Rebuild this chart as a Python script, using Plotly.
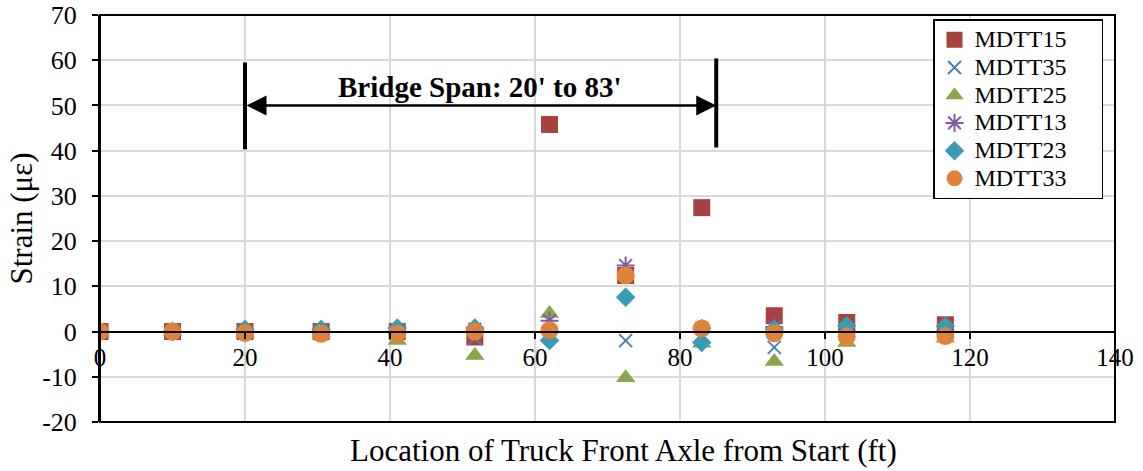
import plotly.graph_objects as go

# Truck front-axle positions (ft) at which strains were recorded
location_ft = [0, 10, 20, 30.5, 41, 51.7, 62, 72.5, 83, 93, 103, 116.6]

# Strain readings (microstrain) per gauge
mdtt15 = [0, 0, 0, 0, 0, -1.2, 45.8, 12.4, 27.4, 3.5, 2.0, 1.5]
mdtt35 = [0, 0, 0, 0, 0, -1.5, -1.0, -2.0, -1.0, -3.5, -1.5, -0.5]
mdtt25 = [0, 0, -0.3, -0.5, -2.0, -5.3, 4.0, -10.2, -2.6, -6.6, -2.4, -1.5]
mdtt13 = [0, 0, 0, 0, 0, 0.5, 2.4, 14.6, 0.7, 1.0, 0, 0]
mdtt23 = [0, 0, 0.5, 0.5, 0.8, 0.8, -2.0, 7.6, -2.4, 0.5, 1.3, 1.2]
mdtt33 = [0, 0, -0.3, -0.5, -0.5, 0, 0.3, 12.4, 0.7, -0.4, -1.1, -1.0]

# Axis ticks
x_tick_vals = [0, 20, 40, 60, 80, 100, 120, 140]
x_tick_text = ["0", "20", "40", "60", "80", "100", "120", "140"]
y_tick_vals = [-20, -10, 0, 10, 20, 30, 40, 50, 60, 70]
y_tick_text = ["-20", "-10", "0", "10", "20", "30", "40", "50", "60", "70"]

# Bridge span annotation extents
span_ends = [20, 85]
span_label = "Bridge Span: 20' to 83'"

x_range = [0, 140]
y_range = [-20, 70]

FONT = "Liberation Serif, Times New Roman, serif"

series = [
    ("MDTT15", mdtt15, dict(symbol="square", size=17, color="#A7423E")),
    ("MDTT35", mdtt35, dict(symbol="x-thin", size=13, color="#4A7EBB",
                            line=dict(color="#4A7EBB", width=2))),
    ("MDTT25", mdtt25, dict(symbol="triangle-up", size=17, color="#8BA64A")),
    ("MDTT13", mdtt13, dict(symbol="asterisk-open", size=15, color="#7D60A0",
                            line=dict(color="#7D60A0", width=2))),
    ("MDTT23", mdtt23, dict(symbol="diamond", size=15, color="#3C9BB4")),
    ("MDTT33", mdtt33, dict(symbol="circle", size=18, color="#E0833A")),
]

fig = go.Figure()
for name, vals, marker in series:
    # larger legend label text (with right padding) on compact row spacing
    fig.add_trace(go.Scatter(
        x=location_ft, y=vals, mode="markers", marker=marker,
        name='<span style="font-size:24px">' + name
             + "&nbsp;&nbsp;&nbsp;&nbsp;&nbsp;</span>",
    ))

# x axis sits on the zero strain line
zero_pos = (0 - y_range[0]) / (y_range[1] - y_range[0])

fig.update_layout(
    width=1143, height=471,
    margin=dict(l=100, r=28, t=15, b=49),
    paper_bgcolor="white", plot_bgcolor="white",
    font=dict(family=FONT, color="black"),
    showlegend=True,
    legend=dict(x=0.8207, y=0.989, xanchor="left", yanchor="top",
                bgcolor="white", bordercolor="black", borderwidth=1.5,
                font=dict(family=FONT, size=19), itemsizing="trace",
                tracegroupgap=0),
    xaxis=dict(range=x_range, tickvals=x_tick_vals, ticktext=x_tick_text,
               anchor="free", position=zero_pos, automargin=False,
               showgrid=True, gridcolor="#D9D9D9", gridwidth=1.5,
               zeroline=False, showline=True, linecolor="black", linewidth=2,
               ticks="outside", ticklen=6, tickcolor="black", tickwidth=2,
               ticklabelstandoff=-3,
               tickfont=dict(family=FONT, size=25)),
    yaxis=dict(range=y_range, tickvals=y_tick_vals, ticktext=y_tick_text,
               automargin=False,
               showgrid=True, gridcolor="#D9D9D9", gridwidth=1.5,
               zeroline=False, showline=True, linecolor="black", linewidth=2,
               ticks="outside", ticklen=6, tickcolor="black", tickwidth=2,
               ticklabelstandoff=10,
               tickfont=dict(family=FONT, size=26),
               title=dict(text="Strain (με)", standoff=0,
                          font=dict(family=FONT, size=31))),
)

# Plot-area frame
fig.add_shape(type="rect", xref="paper", yref="paper", x0=0, x1=1, y0=0, y1=1,
              line=dict(color="black", width=2), layer="above")

# Span end markers
for xe, (y0, y1) in zip(span_ends, [(40.3, 59.5), (40.7, 60.4)]):
    fig.add_shape(type="line", xref="x", yref="y", x0=xe, x1=xe, y0=y0, y1=y1,
                  line=dict(color="black", width=4))

# Double-headed span arrow
fig.add_annotation(x=span_ends[1], y=50, ax=span_ends[0], ay=50,
                   xref="x", yref="y", axref="x", ayref="y",
                   showarrow=True, arrowside="end+start", arrowhead=2,
                   arrowsize=1.6, arrowwidth=2.5, arrowcolor="black", text="")
fig.add_annotation(x=52.4, y=54, xref="x", yref="y", showarrow=False,
                   text="<b>" + span_label + "</b>",
                   font=dict(family=FONT, size=29, color="black"))

# x-axis title below the plot
fig.add_annotation(x=0.516, y=-0.071, xref="paper", yref="paper",
                   showarrow=False, yanchor="middle",
                   text="Location of Truck Front Axle from Start (ft)",
                   font=dict(family=FONT, size=31, color="black"))

fig.write_html("out.html")
